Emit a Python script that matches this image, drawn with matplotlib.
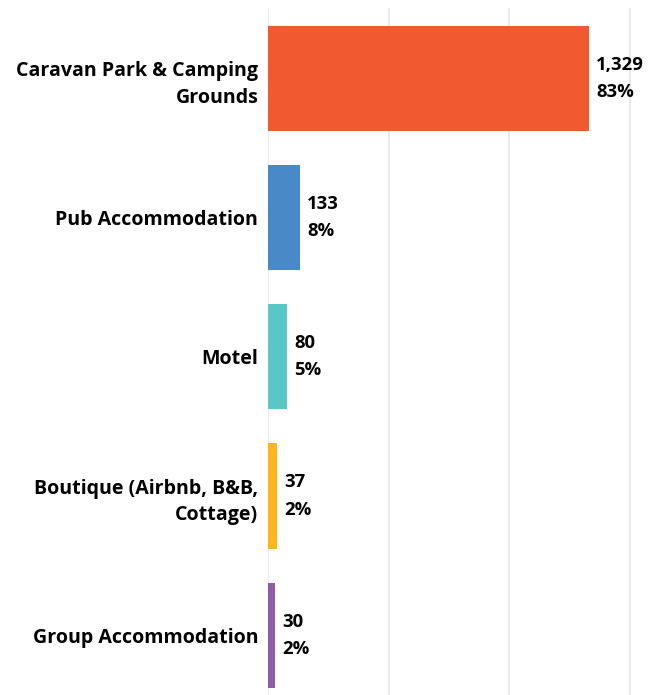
import matplotlib.pyplot as plt

categories = ["Caravan Park & Camping\nGrounds", "Pub Accommodation", "Motel",
              "Boutique (Airbnb, B&B,\nCottage)", "Group Accommodation"]
values = [1329, 133, 80, 37, 30]
shares = ["83%", "8%", "5%", "2%", "2%"]
colors = ["#F15A31", "#4A89C8", "#5BC6C6", "#FDB61B", "#8E5DA6"]

plt.rcParams['font.family'] = ['Open Sans', 'DejaVu Sans']

fig = plt.figure(figsize=(6.5, 6.95), dpi=100)
ax = fig.add_axes([268 / 650, 0, 382 / 650, 687 / 695])

ypos = range(len(values))
ax.barh(ypos, values, height=0.755, color=colors, zorder=3)

for y, v, s in zip(ypos, values, shares):
    ax.text(v + 30, y, f"{v:,}\n{s}", va='center', ha='left',
            fontsize=13.3, fontweight='bold', linespacing=1.65, zorder=4)

ax.set_yticks(list(ypos))
ax.set_yticklabels(categories, fontsize=14.1, fontweight='bold', linespacing=1.45)
ax.tick_params(axis='y', length=0, pad=7)
ax.set_xticks([0, 500, 1000, 1500])
ax.tick_params(axis='x', length=0, labelbottom=False)
ax.set_xlim(0, 1582)
ax.set_ylim(4.43, -0.507)
ax.grid(axis='x', color='#E5E5E5', linewidth=1.2, zorder=0)
for sp in ax.spines.values():
    sp.set_visible(False)

fig.savefig("out.png", dpi=100)
